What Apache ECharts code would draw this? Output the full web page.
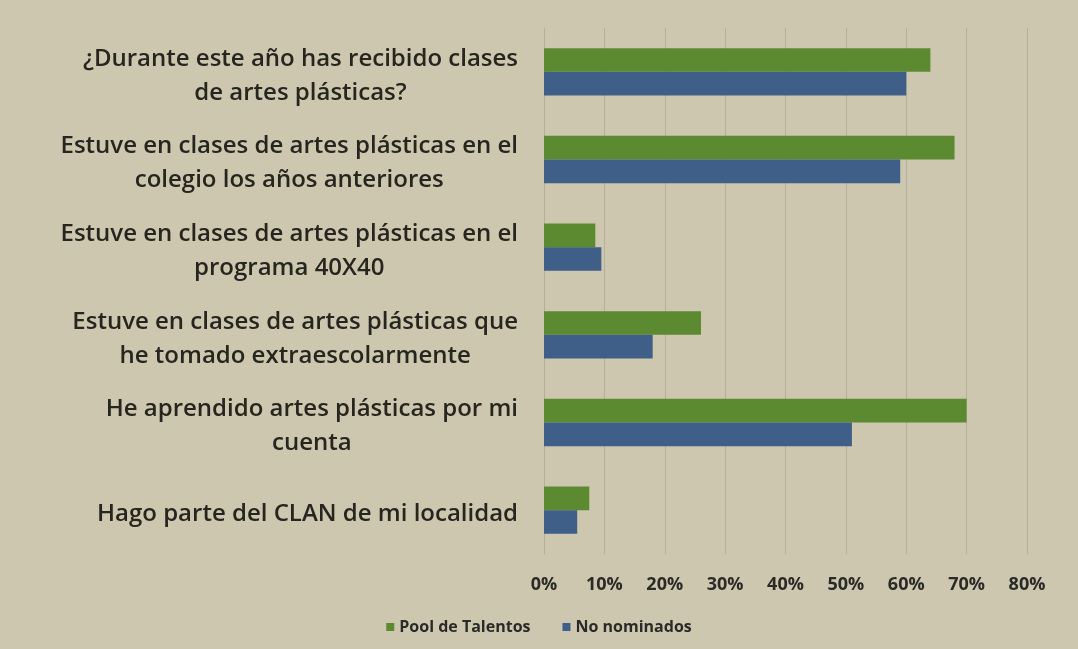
<!DOCTYPE html>
<html>
<head>
<meta charset="utf-8">
<script src="https://cdn.jsdelivr.net/npm/echarts@6/dist/echarts.min.js"></script>
<style>
    html, body {margin: 0; padding: 0; background: #cec7b0;}
    #main {width: 1078px; height: 649px;}
</style>
</head>
<body>
<div id="main"></div>
<script>
    // categorías (de arriba hacia abajo)
    var categories = [
        '¿Durante este año has recibido clases\nde artes plásticas?',
        'Estuve en clases de artes plásticas en el\ncolegio los años anteriores',
        'Estuve en clases de artes plásticas en el\nprograma 40X40',
        'Estuve en clases de artes plásticas que\nhe tomado extraescolarmente',
        'He aprendido artes plásticas por mi\ncuenta',
        'Hago parte del CLAN de mi localidad'
    ];
    var seriesNames = ['Pool de Talentos', 'No nominados'];
    var poolTalentos = [64, 68, 8.5, 26, 70, 7.5];
    var noNominados = [60, 59, 9.5, 18, 51, 5.5];
    var xTicks = [0, 10, 20, 30, 40, 50, 60, 70, 80];

    var myChart = echarts.init(document.getElementById('main'));
    var option = {
        backgroundColor: '#cec7b0',
        textStyle: {fontFamily: 'Open Sans'},
        legend: {
            data: seriesNames,
            bottom: 9,
            left: 'center',
            itemWidth: 8,
            itemHeight: 8,
            itemGap: 32,
            icon: 'rect',
            textStyle: {fontSize: 16, fontWeight: 'bold', color: '#2a2a26', fontFamily: 'Open Sans'}
        },
        grid: {left: 544, right: 51, top: 28, bottom: 95},
        xAxis: {
            type: 'value',
            min: xTicks[0],
            max: xTicks[xTicks.length - 1],
            interval: 10,
            axisLine: {show: false},
            axisTick: {show: false},
            splitLine: {lineStyle: {color: '#b5af9a', width: 1}},
            axisLabel: {
                margin: 22,
                fontSize: 18,
                fontWeight: 'bold',
                color: '#2a2a26',
                fontFamily: 'Open Sans',
                formatter: '{value}%'
            }
        },
        yAxis: {
            type: 'category',
            inverse: true,
            data: categories,
            axisLine: {show: true, lineStyle: {color: '#b5af9a'}},
            axisTick: {show: false},
            axisLabel: {
                margin: 26,
                padding: [8, 0, 0, 0],
                formatter: function (val) {
                    return '{a|' + val + '}';
                },
                rich: {
                    a: {
                        align: 'center',
                        fontSize: 24,
                        fontWeight: 600,
                        lineHeight: 34,
                        color: '#26261f',
                        fontFamily: 'Open Sans'
                    }
                }
            }
        },
        series: [
            {
                name: seriesNames[0],
                type: 'bar',
                data: poolTalentos,
                barGap: '0%',
                barCategoryGap: '46%',
                itemStyle: {color: '#5c8a30'}
            },
            {
                name: seriesNames[1],
                type: 'bar',
                data: noNominados,
                itemStyle: {color: '#3f5e88'}
            }
        ]
    };
    myChart.setOption(option);
</script>
</body>
</html>
